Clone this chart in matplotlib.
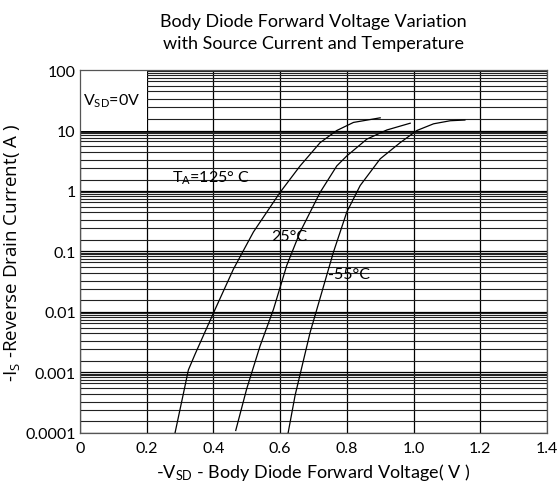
import numpy as np
import matplotlib.pyplot as plt
from matplotlib.patches import Rectangle
from matplotlib.ticker import FixedLocator, NullFormatter

plt.rcParams['font.family'] = ['Lato', 'DejaVu Sans']
plt.rcParams['mathtext.default'] = 'regular'

# curves: -Vsd (V) vs -Is (A)
v_125 = [0.285, 0.315, 0.325, 0.345, 0.375, 0.405, 0.46, 0.52, 0.60, 0.66, 0.72, 0.77, 0.82, 0.90]
i_125 = [1.0e-4, 6.0e-4, 1.1e-3, 2.0e-3, 4.7e-3, 0.011, 0.051, 0.21, 0.95, 2.6, 6.3, 10, 13.6, 16.2]

v_25 = [0.467, 0.50, 0.54, 0.58, 0.62, 0.66, 0.72, 0.77, 0.80, 0.86, 0.92, 0.99]
i_25 = [1.1e-4, 5.4e-4, 2.75e-3, 0.011, 0.059, 0.21, 0.95, 2.6, 3.8, 7.2, 10.2, 13.2]

v_m55 = [0.624, 0.645, 0.69, 0.71, 0.76, 0.80, 0.84, 0.90, 0.96, 1.01, 1.06, 1.11, 1.154]
i_m55 = [1.0e-4, 4.2e-4, 4.6e-3, 0.011, 0.098, 0.45, 1.23, 3.4, 6.3, 10, 12.9, 14.5, 14.9]

x_ticks = [0, 0.2, 0.4, 0.6, 0.8, 1.0, 1.2, 1.4]
x_labels = ['0', '0.2', '0.4', '0.6', '0.8', '1.0', '1.2', '1.4']
y_ticks = [1e-4, 1e-3, 1e-2, 1e-1, 1, 10, 100]
y_labels = ['0.0001', '0.001', '0.01', '0.1', '1', '10', '100']

# the hand drawn grid inside each decade (fraction of a decade)
grid_fracs = [0.19, 0.383, 0.515, 0.647, 0.741, 0.824, 0.873, 0.923, 0.956, 0.983]

fig = plt.figure(figsize=(5.59, 4.89), dpi=100)
ax = fig.add_axes([0.143, 0.1125, 0.8355, 0.7423])

ax.set_yscale('log')
ax.set_xlim(0, 1.4)
ax.set_ylim(1e-4, 100)

minor = [10.0 ** (d + f) for d in range(-4, 2) for f in grid_fracs]
ax.yaxis.set_minor_locator(FixedLocator(minor))
ax.yaxis.set_minor_formatter(NullFormatter())
ax.set_yticks(y_ticks)
ax.set_yticklabels(y_labels)
ax.set_xticks(x_ticks)
ax.set_xticklabels(x_labels)
ax.tick_params(which='both', length=0, labelsize=11.5, pad=3)
ax.tick_params(axis='x', pad=6)

ax.grid(True, which='major', axis='both', color='black', lw=0.9)
ax.grid(True, which='minor', axis='y', color='#222222', lw=0.8)
for s in ax.spines.values():
    s.set_linewidth(0.9)
    s.set_color('#555555')

# blank corner box for the condition note
ax.add_patch(Rectangle((0, 10), 0.2, 90, facecolor='white', edgecolor='none', zorder=2))

ax.plot(v_125, i_125, color='black', lw=0.9, zorder=3)
ax.plot(v_25, i_25, color='black', lw=0.9, zorder=3)
ax.plot(v_m55, i_m55, color='black', lw=0.9, zorder=3)

ax.text(0.01, 31, r'V$_{SD}$=0V', fontsize=11.5, va='center', zorder=4)
ax.text(0.275, 1.7, r'T$_A$=125° C', fontsize=11.5, va='center', zorder=4)
ax.text(0.573, 0.18, '25°C', fontsize=11.5, va='center', zorder=4)
ax.text(0.743, 0.042, '-55°C', fontsize=11.5, va='center', zorder=4)

ax.set_title('Body Diode Forward Voltage Variation\nwith Source Current and Temperature',
             fontsize=13, pad=16, linespacing=1.45)
ax.set_xlabel(r'-V$_{SD}$ - Body Diode Forward Voltage( V )', fontsize=13, labelpad=4)
ax.set_ylabel(r'-I$_S$ -Reverse Drain Current( A )', fontsize=13.5,
              family=['Open Sans', 'DejaVu Sans'])
ax.yaxis.set_label_coords(-0.125, 0.5)

fig.savefig('out.png', dpi=100)
